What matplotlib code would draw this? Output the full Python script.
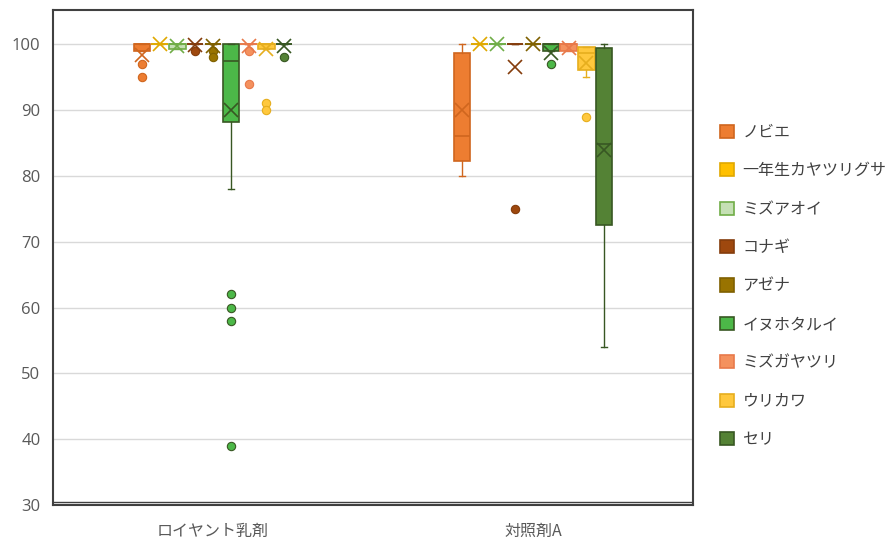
import numpy as np
import matplotlib.pyplot as plt
from matplotlib.patches import Patch

plt.rcParams['font.family'] = ['Noto Sans CJK JP', 'DejaVu Sans']

categories = ['ロイヤント乳剤', '対照剤A']
series = ['ノビエ', '一年生カヤツリグサ', 'ミズアオイ', 'コナギ', 'アゼナ',
          'イヌホタルイ', 'ミズガヤツリ', 'ウリカワ', 'セリ']

# box statistics per series: one value per category
whis_lo = [[99, 80], [100, 100], [99.3, 100], [100, 100], [100, 100],
           [78, 98.9], [100, 98.9], [99.3, 95], [100, 54]]
q1 = [[99, 82.3], [100, 100], [99.3, 100], [100, 100], [100, 100],
      [88.2, 98.9], [100, 98.9], [99.3, 96.1], [100, 72.6]]
median = [[100, 86.1], [100, 100], [100, 100], [100, 100], [100, 100],
          [97.5, 100], [100, 100], [100, 98.6], [100, 84.9]]
q3 = [[100, 98.7], [100, 100], [100, 100], [100, 100], [100, 100],
      [100, 100], [100, 100], [100, 99.6], [100, 99.5]]
whis_hi = [[100, 100], [100, 100], [100, 100], [100, 100], [100, 100],
           [100, 100], [100, 100], [100, 99.6], [100, 100]]
mean = [[98.3, 90], [100, 100], [99.7, 100], [99.9, 96.5], [99.7, 100],
        [90, 98.7], [99.7, 99.5], [99.3, 97.2], [99.8, 84]]
outliers = [[[97, 95], []], [[], []], [[], []], [[99], [75]], [[99, 98], []],
            [[62, 60, 58, 39], [97]], [[99, 94], []], [[91, 90], [89]],
            [[98], []]]

fills = ['#ED7D31', '#FFC000', '#C5E0B4', '#9E480E', '#997300',
         '#4CB848', '#F4915E', '#FFC83D', '#548235']
edges = ['#D0661E', '#E0A800', '#70AD47', '#843C0C', '#7F6000',
         '#385723', '#E8794A', '#E6AE1E', '#385723']

fig = plt.figure(figsize=(8.93, 5.43), dpi=100)
ax = fig.add_axes([53 / 893, 1 - 505 / 543, 640 / 893, 495 / 543])

slot = 0.5 / len(series)
for k, name in enumerate(series):
    stats = []
    for c in range(len(categories)):
        stats.append(dict(whislo=whis_lo[k][c], q1=q1[k][c], med=median[k][c],
                          q3=q3[k][c], whishi=whis_hi[k][c], mean=mean[k][c],
                          fliers=outliers[k][c]))
    pos = np.arange(len(categories)) + (k - 4) * slot
    ax.bxp(stats, positions=pos, widths=slot * 0.92, capwidths=slot * 0.35,
           patch_artist=True, showmeans=True, manage_ticks=False,
           boxprops=dict(facecolor=fills[k], edgecolor=edges[k], linewidth=1.2),
           medianprops=dict(color=edges[k], linewidth=1.2),
           whiskerprops=dict(color=edges[k], linewidth=1),
           capprops=dict(color=edges[k], linewidth=1),
           meanprops=dict(marker='x', markersize=10, markeredgewidth=1.2,
                          markeredgecolor=edges[k]),
           flierprops=dict(marker='o', markersize=6, markerfacecolor=fills[k],
                           markeredgecolor=edges[k], markeredgewidth=0.8))

ax.set_xlim(-0.5, 1.5)
ax.set_ylim(30, 105.2)
ax.set_xticks(range(len(categories)))
ax.set_xticklabels(categories, fontsize=11.5)
ax.set_yticks(np.arange(30, 101, 10))
ax.set_yticklabels([str(v) for v in range(30, 101, 10)],
                   family=['Open Sans', 'DejaVu Sans'], fontsize=12)
ax.tick_params(length=0, colors='#595959')
ax.tick_params(axis='x', pad=13)
ax.tick_params(axis='y', pad=9)
ax.yaxis.grid(True, color='#D9D9D9', linewidth=1)
ax.set_axisbelow(True)
for s in ax.spines.values():
    s.set_color('#404040')
    s.set_linewidth(1.5)
ax.axhline(30.45, color='#404040', linewidth=1)

handles = [Patch(facecolor=fills[k], edgecolor=edges[k], linewidth=1.2)
           for k in range(len(series))]
fig.legend(handles, series, loc='center left',
           bbox_to_anchor=(720 / 893, 1 - 286 / 543), frameon=False,
           fontsize=11.5, labelcolor='#404040', handlelength=0.9,
           handleheight=0.9, handletextpad=0.5, labelspacing=1.34,
           borderpad=0, borderaxespad=0)

fig.savefig('out.png', dpi=100)
